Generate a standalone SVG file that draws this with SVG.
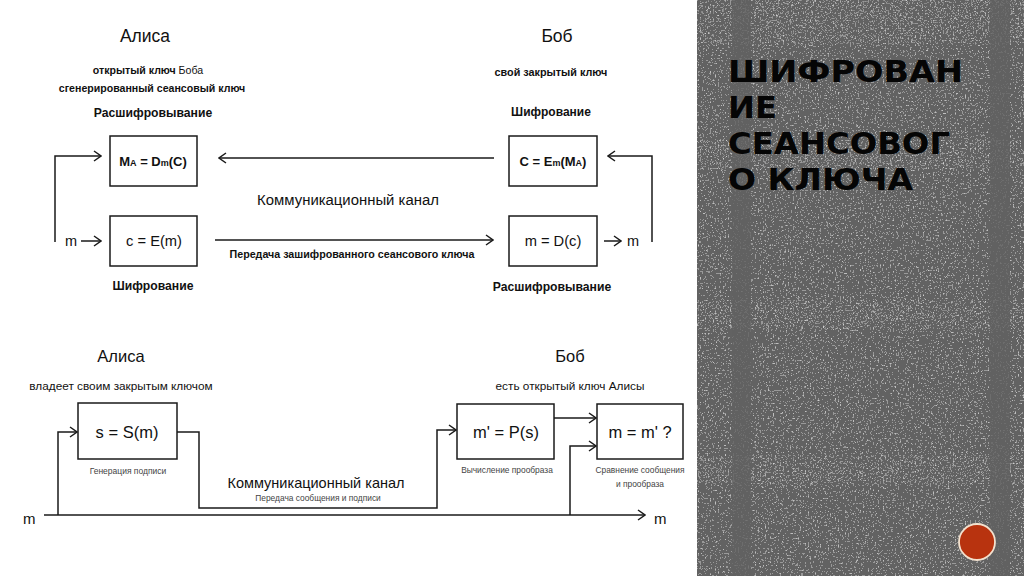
<svg xmlns="http://www.w3.org/2000/svg" width="1024" height="576" viewBox="0 0 1024 576">
<defs>
<style>
.ln{fill:none;stroke:#1a1a1a;stroke-width:1.5}
.bx{fill:#fff;stroke:#1a1a1a;stroke-width:1.5}
.t{font-family:"Liberation Sans",Arial,sans-serif;fill:#111}
.g{fill:#444}
.b{font-weight:bold}
.c{text-anchor:middle}
.ttl{font-family:"DejaVu Sans",Verdana,sans-serif;font-weight:bold;font-size:30px;fill:#050505}
</style>
<marker id="ar" viewBox="0 0 10 12" refX="9" refY="6" markerWidth="10" markerHeight="12" markerUnits="userSpaceOnUse" orient="auto">
<path d="M2,1 L9,6 L2,11" fill="none" stroke="#1a1a1a" stroke-width="1.5"/>
</marker>
<filter id="spk" x="0" y="0" width="100%" height="100%">
<feTurbulence type="fractalNoise" baseFrequency="0.6" numOctaves="2" seed="4" result="n"/>
<feColorMatrix in="n" type="matrix" values="0 0 0 0 1  0 0 0 0 1  0 0 0 0 1  1 0 0 0 0" result="a"/>
<feComponentTransfer in="a"><feFuncA type="discrete" tableValues="0 0 0 0 0 0.5 0.85 1"/></feComponentTransfer>
</filter>
<filter id="spk2" x="0" y="0" width="100%" height="100%">
<feTurbulence type="fractalNoise" baseFrequency="0.6" numOctaves="2" seed="9" result="n"/>
<feColorMatrix in="n" type="matrix" values="0 0 0 0 1  0 0 0 0 1  0 0 0 0 1  1 0 0 0 0" result="a"/>
<feComponentTransfer in="a"><feFuncA type="discrete" tableValues="0 0 0 0 0 0.7 1 1"/></feComponentTransfer>
</filter>
</defs>
<rect width="1024" height="576" fill="#fff"/>

<g id="panel">
<rect x="697" y="0" width="327" height="576" fill="#626262"/>
<rect x="697" y="0" width="327" height="576" fill="#fff" filter="url(#spk)" opacity="0.7"/>
<rect x="697" y="0" width="327" height="45" fill="#fff" filter="url(#spk2)" opacity="0.35"/>
<rect x="697" y="140" width="327" height="30" fill="#fff" filter="url(#spk2)" opacity="0.35"/>
<rect x="697" y="300" width="327" height="30" fill="#fff" filter="url(#spk2)" opacity="0.35"/>
<rect x="697" y="455" width="327" height="30" fill="#fff" filter="url(#spk2)" opacity="0.35"/>
<rect x="732" y="0" width="19" height="576" fill="#626262" opacity="0.8"/>
<rect x="990" y="0" width="20" height="576" fill="#626262" opacity="0.8"/>
<text class="ttl" x="728" y="82" textLength="235" lengthAdjust="spacingAndGlyphs">ШИФРОВАН</text>
<text class="ttl" x="728" y="118" textLength="49" lengthAdjust="spacingAndGlyphs">ИЕ</text>
<text class="ttl" x="728" y="154" textLength="222" lengthAdjust="spacingAndGlyphs">СЕАНСОВОГ</text>
<text class="ttl" x="728" y="190" textLength="185" lengthAdjust="spacingAndGlyphs">О КЛЮЧА</text>
<circle cx="977" cy="542" r="18" fill="#b8330f" stroke="#f3e2cf" stroke-width="1.8"/>
</g>

<g id="connectors">
<path class="ln" d="M55,242 V156 H101" marker-end="url(#ar)"/>
<path class="ln" d="M81,241 H101" marker-end="url(#ar)"/>
<path class="ln" d="M494,158 H219" marker-end="url(#ar)"/>
<path class="ln" d="M215,240 H493" marker-end="url(#ar)"/>
<path class="ln" d="M604,241 H621" marker-end="url(#ar)"/>
<path class="ln" d="M652,242 V156 H608" marker-end="url(#ar)"/>
<path class="ln" d="M58,515 V432 H77" marker-end="url(#ar)"/>
<path class="ln" d="M177,432 H199 V508 H437 V430 H456" marker-end="url(#ar)"/>
<path class="ln" d="M44,515 H645" marker-end="url(#ar)"/>
<path class="ln" d="M554,418 H596" marker-end="url(#ar)"/>
<path class="ln" d="M570,515 V446 H596" marker-end="url(#ar)"/>
</g>

<g id="top-labels">
<text class="t c" x="145" y="42" font-size="17.5">Алиса</text>
<text class="t c" x="557" y="42" font-size="17.5">Боб</text>
<text class="t c" x="148" y="74" font-size="10.6"><tspan class="b">открытый ключ</tspan> Боба</text>
<text class="t c b" x="152" y="92" font-size="10.6">сгенерированный сеансовый ключ</text>
<text class="t c b" x="153" y="117" font-size="12.2">Расшифровывание</text>
<text class="t c b" x="551" y="76" font-size="10.8">свой закрытый ключ</text>
<text class="t c b" x="551" y="116" font-size="12">Шифрование</text>
<text class="t c" x="348" y="205" font-size="14.9">Коммуникационный канал</text>
<text class="t c b" x="352" y="258" font-size="10.7">Передача зашифрованного сеансового ключа</text>
<text class="t c b" x="153" y="290" font-size="12.2">Шифрование</text>
<text class="t c b" x="552" y="291" font-size="12.2">Расшифровывание</text>
<text class="t" x="65" y="246" font-size="14.5">m</text>
<text class="t" x="627" y="246" font-size="14.5">m</text>
</g>

<g id="node-ma">
<rect class="bx" x="110" y="136" width="87" height="50"/>
<text class="t c b" x="153" y="166" font-size="13">M<tspan font-size="9">A</tspan> = D<tspan font-size="9">m</tspan>(C)</text>
</g>
<g id="node-c">
<rect class="bx" x="110" y="216" width="87" height="50"/>
<text class="t c" x="154" y="246" font-size="14.7">c = E(m)</text>
</g>
<g id="node-cem">
<rect class="bx" x="509" y="136" width="88" height="50"/>
<text class="t c b" x="553" y="166" font-size="13">C = E<tspan font-size="9">m</tspan>(M<tspan font-size="9">A</tspan>)</text>
</g>
<g id="node-md">
<rect class="bx" x="509" y="216" width="88" height="50"/>
<text class="t c" x="553" y="246" font-size="14.7">m = D(c)</text>
</g>

<g id="bottom-labels">
<text class="t c" x="121" y="362" font-size="16.5">Алиса</text>
<text class="t c" x="570" y="362" font-size="16.5">Боб</text>
<text class="t c" x="121" y="390" font-size="11.8">владеет своим закрытым ключом</text>
<text class="t c" x="570" y="390" font-size="11.8">есть открытый ключ Алисы</text>
<text class="t c g" x="128" y="474" font-size="8.5">Генерация подписи</text>
<text class="t c g" x="507" y="473" font-size="8.4">Вычисление прообраза</text>
<text class="t c g" x="640" y="473" font-size="8.4">Сравнение сообщения</text>
<text class="t c g" x="640" y="487" font-size="8.4">и прообраза</text>
<text class="t c" x="316" y="488" font-size="14.5">Коммуникационный канал</text>
<text class="t c g" x="318" y="501" font-size="8.4">Передача сообщения и подписи</text>
<text class="t" x="23" y="524" font-size="15">m</text>
<text class="t" x="654" y="524" font-size="15">m</text>
</g>

<g id="node-s">
<rect class="bx" x="78" y="403" width="99" height="56"/>
<text class="t c" x="127" y="438" font-size="16.5">s = S(m)</text>
</g>
<g id="node-p">
<rect class="bx" x="457" y="404" width="97" height="55"/>
<text class="t c" x="506" y="438" font-size="16.5">m' = P(s)</text>
</g>
<g id="node-cmp">
<rect class="bx" x="597" y="404" width="86" height="55"/>
<text class="t c" x="640" y="438" font-size="16.5">m = m' ?</text>
</g>
</svg>
